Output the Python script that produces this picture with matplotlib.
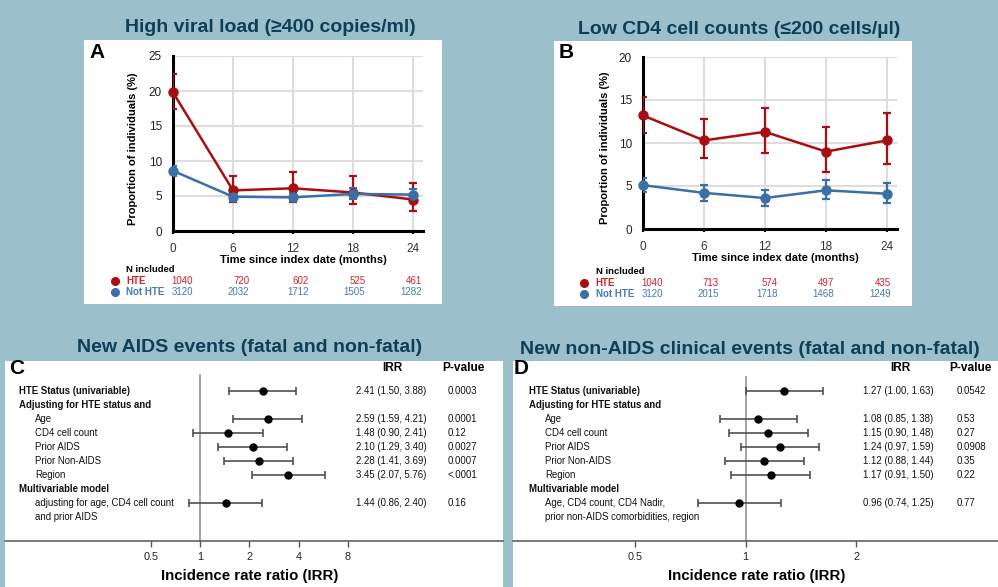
import numpy as np
import matplotlib
matplotlib.use("Agg")
import matplotlib.pyplot as plt
from matplotlib.patches import Rectangle
import matplotlib.transforms as mtransforms

plt.rcParams['font.family'] = ['Liberation Sans', 'DejaVu Sans']

# ---------------- data ----------------
months = [0, 6, 12, 18, 24]

# Panel A: high viral load
a_hte = [19.8, 5.8, 6.1, 5.5, 4.5]
a_hte_lo = [17.4, 4.1, 4.2, 3.8, 2.9]
a_hte_hi = [22.4, 7.9, 8.4, 7.9, 6.9]
a_not = [8.6, 4.9, 4.8, 5.3, 5.2]
a_not_lo = [7.9, 4.3, 4.3, 4.6, 4.5]
a_not_hi = [9.3, 5.5, 5.4, 6.1, 6.0]
a_n_hte = [1040, 720, 602, 525, 461]
a_n_not = [3120, 2032, 1712, 1505, 1282]

# Panel B: low CD4
b_hte = [13.2, 10.3, 11.3, 9.0, 10.3]
b_hte_lo = [11.2, 8.2, 8.8, 6.6, 7.6]
b_hte_hi = [15.4, 12.8, 14.1, 11.9, 13.5]
b_not = [5.1, 4.2, 3.6, 4.5, 4.1]
b_not_lo = [4.3, 3.3, 2.7, 3.5, 3.0]
b_not_hi = [5.9, 5.1, 4.5, 5.7, 5.3]
b_n_hte = [1040, 713, 574, 497, 435]
b_n_not = [3120, 2015, 1718, 1468, 1249]

# Forest rows
c_labels = ["HTE Status (univariable)", "Adjusting for HTE status and", "Age", "CD4 cell count",
            "Prior AIDS", "Prior Non-AIDS", "Region", "Multivariable model",
            "adjusting for age, CD4 cell count", "and prior AIDS"]
d_labels = ["HTE Status (univariable)", "Adjusting for HTE status and", "Age", "CD4 cell count",
            "Prior AIDS", "Prior Non-AIDS", "Region", "Multivariable model",
            "Age, CD4 count, CD4 Nadir,", "prior non-AIDS comorbidities, region"]
label_bold = [True, True, False, False, False, False, False, True, False, False]

est_rows = [0, 2, 3, 4, 5, 6, 8]
c_irr = [2.41, 2.59, 1.48, 2.10, 2.28, 3.45, 1.44]
c_lo = [1.50, 1.59, 0.90, 1.29, 1.41, 2.07, 0.86]
c_hi = [3.88, 4.21, 2.41, 3.40, 3.69, 5.76, 2.40]
c_p = ["0.0003", "0.0001", "0.12", "0.0027", "0.0007", "<.0001", "0.16"]

d_irr = [1.27, 1.08, 1.15, 1.24, 1.12, 1.17, 0.96]
d_lo = [1.00, 0.85, 0.90, 0.97, 0.88, 0.91, 0.74]
d_hi = [1.63, 1.38, 1.48, 1.59, 1.44, 1.50, 1.25]
d_p = ["0.0542", "0.53", "0.27", "0.0908", "0.35", "0.22", "0.77"]

c_ticks = [0.5, 1, 2, 4, 8]
d_ticks = [0.5, 1, 2]

# ---------------- figure ----------------
W, H = 998, 587
BG = '#9BBFCB'
TITLE_C = '#0F3F57'
RED = '#A80F12'
BLUE = '#3C6FA6'
RED_T = '#D2232A'
BLUE_T = '#4679B5'

fig = plt.figure(figsize=(W / 100, H / 100), dpi=100, facecolor=BG)


def fx(px):
    return px / W


def fy(py):
    return 1 - py / H


def add_box(x0, y0, x1, y1):
    fig.add_artist(Rectangle((fx(x0), fy(y1)), (x1 - x0) / W, (y1 - y0) / H,
                             transform=fig.transFigure, facecolor='white',
                             edgecolor='none', zorder=0))


def add_ax(x0, y0, x1, y1):
    return fig.add_axes([fx(x0), fy(y1), (x1 - x0) / W, (y1 - y0) / H])


# white boxes
add_box(84, 40, 442, 304)
add_box(554, 41, 912, 306)
add_box(5, 361, 503, 590)
add_box(513, 361, 1000, 590)

# titles
fig.text(fx(270), fy(28), "High viral load (≥400 copies/ml)", ha='center', va='center',
         fontsize=14, fontweight='bold', color=TITLE_C)
fig.text(fx(739), fy(30), "Low CD4 cell counts (≤200 cells/µl)", ha='center', va='center',
         fontsize=14, fontweight='bold', color=TITLE_C)
fig.text(fx(250), fy(348), "New AIDS events (fatal and non-fatal)", ha='center', va='center',
         fontsize=14, fontweight='bold', color=TITLE_C)
fig.text(fx(750), fy(349), "New non-AIDS clinical events (fatal and non-fatal)", ha='center',
         va='center', fontsize=14, fontweight='bold', color=TITLE_C)


def line_panel(box, ymax, yticks, hte, hlo, hhi, nt, nlo, nhi, n_hte, n_not,
               letter, letter_xy, ylab_x, xlab_y, table):
    ax = add_ax(*box)
    ax.set_xlim(0, 25)
    ax.set_ylim(0, ymax)
    ax.set_facecolor('none')
    for s in ['top', 'right']:
        ax.spines[s].set_visible(False)
    for s in ['left', 'bottom']:
        ax.spines[s].set_linewidth(2.2)
        ax.spines[s].set_color('black')
    ax.set_xticks(months)
    ax.set_yticks(yticks)
    ax.tick_params(axis='y', length=0, pad=8, labelsize=8.5, labelcolor='#222222')
    ax.tick_params(axis='x', length=2.5, width=1.5, pad=6, labelsize=8.5, labelcolor='#333333')
    ax.grid(True, color='#DDDDDD', linewidth=1.5)
    ax.set_axisbelow(True)
    yerr_h = [np.array(hte) - np.array(hlo), np.array(hhi) - np.array(hte)]
    yerr_n = [np.array(nt) - np.array(nlo), np.array(nhi) - np.array(nt)]
    ax.errorbar(months, hte, yerr=yerr_h, color=RED, linewidth=1.8, elinewidth=1.6,
                capsize=3.2, capthick=1.6, zorder=3)
    ax.errorbar(months, nt, yerr=yerr_n, color=BLUE, linewidth=1.8, elinewidth=1.6,
                capsize=3.2, capthick=1.6, zorder=4)
    ax.plot(months, hte, 'o', color=RED, markersize=6.5, zorder=5, clip_on=False)
    ax.plot(months, nt, 'o', color=BLUE, markersize=6.5, zorder=6, clip_on=False)
    fig.text(fx(letter_xy[0]), fy(letter_xy[1]), letter, ha='center', va='center',
             fontsize=15, fontweight='bold', color='black')
    fig.text(fx(ylab_x), fy((box[1] + box[3]) / 2 + 5), "Proportion of individuals (%)",
             rotation=90, ha='center', va='center', fontsize=8, fontweight='bold')
    fig.text(fx((box[0] + box[2]) / 2 + 5), fy(xlab_y), "Time since index date (months)",
             ha='center', va='center', fontsize=8, fontweight='bold')
    # N table
    nx, ny, dotx, hy, by, cols = table
    fig.text(fx(nx), fy(ny), "N included", ha='left', va='center', fontsize=6.8,
             fontweight='bold')
    fig.lines.append(plt.Line2D([fx(dotx)], [fy(hy)], marker='o', markersize=5.5,
                                color=RED, transform=fig.transFigure, figure=fig))
    fig.lines.append(plt.Line2D([fx(dotx)], [fy(by)], marker='o', markersize=5.5,
                                color=BLUE, transform=fig.transFigure, figure=fig))
    fig.text(fx(nx), fy(hy), "HTE", ha='left', va='center', fontsize=7,
             fontweight='bold', color=RED_T)
    fig.text(fx(nx), fy(by), "Not HTE", ha='left', va='center', fontsize=7,
             fontweight='bold', color=BLUE_T)
    for cx, a, b in zip(cols, n_hte, n_not):
        fig.text(fx(cx), fy(hy), str(a), ha='right', va='center', fontsize=7, color=RED_T)
        fig.text(fx(cx), fy(by), str(b), ha='right', va='center', fontsize=7, color=BLUE_T)
    return ax


line_panel((173, 56, 423, 231), 25, [0, 5, 10, 15, 20, 25],
           a_hte, a_hte_lo, a_hte_hi, a_not, a_not_lo, a_not_hi, a_n_hte, a_n_not,
           "A", (97, 53), 133, 260,
           (126, 269.5, 115, 280.7, 291.7, [193.3, 249.3, 308.7, 365.3, 421.7]))
line_panel((643, 57, 897, 229), 20, [0, 5, 10, 15, 20],
           b_hte, b_hte_lo, b_hte_hi, b_not, b_not_lo, b_not_hi, b_n_hte, b_n_not,
           "B", (566, 53), 605, 258,
           (595.7, 271.7, 584, 282.7, 293.7, [662.7, 719, 777.7, 834.3, 890.7]))


def forest_panel(box, xlim, labels, irr, lo, hi, pv, ticks, letter, letter_x,
                 bold_x, ind_x, irr_x, p_x, hdr_irr_x, hdr_p_x, vtop, xlab_x):
    x0, y0, x1, y1 = box
    ax = add_ax(x0, y0, x1, y1)
    ax.set_facecolor('none')
    ax.set_xscale('log')
    ax.set_xlim(*xlim)
    row0 = 391.0
    dy = 14.0
    ax.set_ylim((y1 - row0) / dy, (y0 - row0) / dy)
    for s in ['top', 'right', 'left']:
        ax.spines[s].set_visible(False)
    ax.spines['bottom'].set_color('#555555')
    ax.spines['bottom'].set_linewidth(1.1)
    ax.set_yticks([])
    ax.set_xticks(ticks)
    ax.set_xticklabels([f"{t:g}" for t in ticks])
    ax.minorticks_off()
    ax.tick_params(axis='x', length=4, width=1, color='#555555', pad=4, labelsize=7.8,
                   labelcolor='#222222')
    ax.plot([1, 1], [(vtop - row0) / dy, (y1 - row0) / dy], color='#8A8A8A', lw=1.1,
            clip_on=False)
    rows = np.array(est_rows)
    ax.errorbar(irr, rows, xerr=[np.array(irr) - np.array(lo), np.array(hi) - np.array(irr)],
                fmt='o', color='black', markersize=5, ecolor='#505050', elinewidth=1.2,
                capsize=3, capthick=1.2, zorder=3)
    tr = mtransforms.blended_transform_factory(fig.transFigure, ax.transData)
    for r, (lab, b) in enumerate(zip(labels, label_bold)):
        t = fig.text(0, 0, lab, transform=tr, ha='left', va='center',
                     fontsize=6.9, fontweight='bold' if b else 'normal', color='#111111')
        t.set_position((fx(bold_x if b else ind_x), r))
    for r, v, l, h, p in zip(est_rows, irr, lo, hi, pv):
        t = fig.text(0, 0, f"{v:.2f} ({l:.2f}, {h:.2f})", transform=tr, ha='left',
                     va='center', fontsize=6.9, color='#111111')
        t.set_position((fx(irr_x), r))
        t = fig.text(0, 0, p, transform=tr, ha='left', va='center', fontsize=6.9,
                     color='#111111')
        t.set_position((fx(p_x), r))
    fig.text(fx(hdr_irr_x), fy(368), "IRR", ha='center', va='center', fontsize=8.6,
             fontweight='bold')
    fig.text(fx(hdr_p_x), fy(368), "P-value", ha='center', va='center', fontsize=8.6,
             fontweight='bold')
    fig.text(fx(letter_x), fy(369), letter, ha='center', va='center', fontsize=15,
             fontweight='bold')
    fig.text(fx(xlab_x), fy(576), "Incidence rate ratio (IRR)", ha='center', va='center',
             fontsize=10.8, fontweight='bold')
    return ax


forest_panel((5, 361, 503, 540.7), (2 ** ((5 - 200) / 49.3), 2 ** ((503 - 200) / 49.3)),
             c_labels, c_irr, c_lo, c_hi, c_p, c_ticks, "C", 17,
             19, 35, 356, 448, 392, 463.3, 375, 250)
forest_panel((513, 361, 998, 540.7),
             (2 ** ((513 - 745.7) / 110.3), 2 ** ((998 - 745.7) / 110.3)),
             d_labels, d_irr, d_lo, d_hi, d_p, d_ticks, "D", 521.5,
             529, 545, 863, 957, 900.3, 970.7, 377, 757)

fig.savefig("out.png", dpi=100, facecolor=BG)
